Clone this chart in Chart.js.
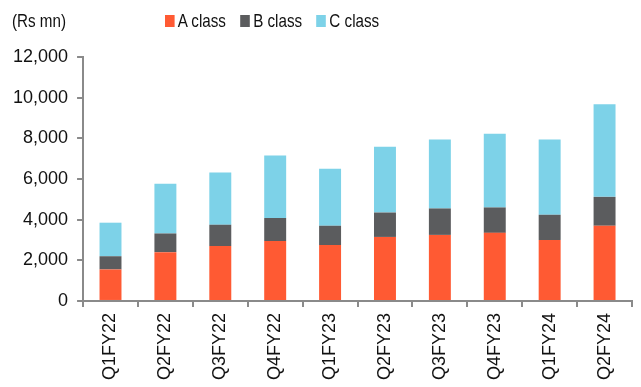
<!DOCTYPE html>
<html>
<head>
<meta charset="utf-8">
<script src="https://cdn.jsdelivr.net/npm/chart.js@4/dist/chart.umd.min.js"></script>
<style>
  html, body { margin: 0; padding: 0; background: #fff; }
  #wrap { position: relative; width: 641px; height: 387px; }
  #unit, #legend { position: absolute; font: 19px "Liberation Sans", Arial, sans-serif; color: #111; transform: scaleX(0.8); transform-origin: 0 0; white-space: nowrap; }
  #unit { left: 12px; top: 10px; }
  #legend { left: 165px; top: 10px; display: flex; }
  #legend span.item { display: flex; align-items: center; margin-right: 18px; }
  #legend i { display: inline-block; width: 12px; height: 12px; margin-right: 4px; }
</style>
</head>
<body>
<div id="wrap">
  <canvas id="chart" width="641" height="387"></canvas>
  <div id="unit">(Rs mn)</div>
  <div id="legend"></div>
</div>
<script>
const quarters = ["Q1FY22","Q2FY22","Q3FY22","Q4FY22","Q1FY23","Q2FY23","Q3FY23","Q4FY23","Q1FY24","Q2FY24"];
const aClass = [1550, 2400, 2700, 2950, 2750, 3150, 3250, 3350, 3000, 3700];
const bClass = [650, 920, 1050, 1130, 950, 1200, 1300, 1250, 1240, 1420];
const cClass = [1650, 2440, 2570, 3070, 2800, 3230, 3390, 3620, 3700, 4550];

const series = [
  { label: "A class", data: aClass, color: "#ff5a33" },
  { label: "B class", data: bClass, color: "#5b5c5e" },
  { label: "C class", data: cClass, color: "#7dd2e8" },
];

// simple html legend
document.getElementById("legend").innerHTML = series
  .map(s => `<span class="item"><i style="background:${s.color}"></i>${s.label}</span>`)
  .join("");

const axisGrey = "#8a8a8a";
const tickFont = { family: "'Liberation Sans', Arial, sans-serif", size: 18 };

new Chart(document.getElementById("chart"), {
  type: "bar",
  data: {
    labels: quarters,
    datasets: series.map(s => ({
      label: s.label, data: s.data, backgroundColor: s.color,
      borderWidth: 0, barPercentage: 0.4, categoryPercentage: 1,
    })),
  },
  options: {
    responsive: false,
    animation: false,
    layout: { padding: { top: 57, right: 9, bottom: 1, left: 4 } },
    plugins: { legend: { display: false }, tooltip: { enabled: false } },
    scales: {
      x: {
        stacked: true,
        grid: { drawOnChartArea: false, color: axisGrey, tickLength: 6, lineWidth: 2 },
        border: { color: axisGrey, width: 2 },
        ticks: { color: "#111", font: tickFont, minRotation: 90, maxRotation: 90, padding: 6 },
      },
      y: {
        stacked: true, min: 0, max: 12000,
        grid: { drawOnChartArea: false, color: axisGrey, tickLength: 6, lineWidth: 2 },
        border: { color: axisGrey, width: 2 },
        ticks: {
          stepSize: 2000, color: "#111", font: tickFont, padding: 9,
          callback: v => v.toLocaleString("en-US"),
        },
      },
    },
  },
});
</script>
</body>
</html>
